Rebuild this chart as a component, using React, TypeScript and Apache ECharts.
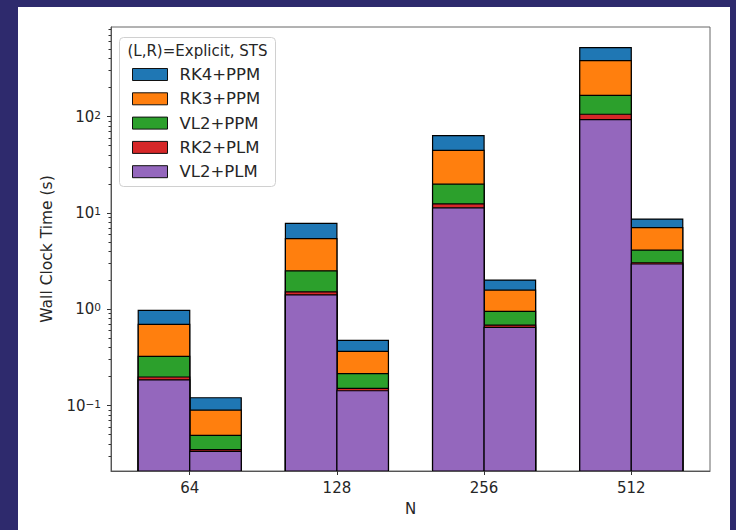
import React, { useEffect, useRef } from 'react';
import * as echarts from 'echarts';

// N values (x categories)
const categories = ['64', '128', '256', '512'];
// Methods, in legend order
const methods = ['RK4+PPM', 'RK3+PPM', 'VL2+PPM', 'RK2+PLM', 'VL2+PLM'];
const colors = ['#1f77b4', '#ff7f0e', '#2ca02c', '#d62728', '#9467bd'];

// Wall clock time (s), left bars: Explicit
const explicitRK4PPM = [0.976, 7.8, 63.2, 517];
const explicitRK3PPM = [0.699, 5.4, 44.6, 380];
const explicitVL2PPM = [0.325, 2.51, 19.9, 166];
const explicitRK2PLM = [0.1985, 1.52, 12.4, 105.5];
const explicitVL2PLM = [0.185, 1.41, 11.3, 92.7];

// Wall clock time (s), right bars: STS
const stsRK4PPM = [0.121, 0.477, 2.01, 8.64];
const stsRK3PPM = [0.09, 0.367, 1.585, 7.02];
const stsVL2PPM = [0.0493, 0.215, 0.953, 4.12];
const stsRK2PLM = [0.035, 0.151, 0.687, 3.04];
const stsVL2PLM = [0.0336, 0.143, 0.65, 2.95];

const explicitTimes = [explicitRK4PPM, explicitRK3PPM, explicitVL2PPM, explicitRK2PLM, explicitVL2PLM];
const stsTimes = [stsRK4PPM, stsRK3PPM, stsVL2PPM, stsRK2PLM, stsVL2PLM];

// Tick values
const xTickValues = [0, 1, 2, 3];
const yMajorTicks = [0.1, 1, 10, 100];
const yMinorTicks = [
  0.03, 0.04, 0.05, 0.06, 0.07, 0.08, 0.09,
  0.2, 0.3, 0.4, 0.5, 0.6, 0.7, 0.8, 0.9,
  2, 3, 4, 5, 6, 7, 8, 9,
  20, 30, 40, 50, 60, 70, 80, 90,
  200, 300, 400, 500, 600, 700, 800,
];

const BAR_W = 0.35;
const FONT = "'DejaVu Sans', sans-serif";
const TXT = '#262626';

export default function App() {
  const ref = useRef<HTMLDivElement>(null);

  useEffect(() => {
    if (!ref.current) return;
    const chart = echarts.init(ref.current, null, { renderer: 'svg' });

    const series = methods.map((m, i) => ({
      type: 'custom',
      name: m,
      xAxisIndex: 0,
      yAxisIndex: 0,
      clip: true,
      itemStyle: { color: colors[i] },
      encode: { x: 0, y: 1 },
      data: [
        ...categories.map((_, j) => [j - BAR_W / 2, explicitTimes[i][j]]),
        ...categories.map((_, j) => [j + BAR_W / 2, stsTimes[i][j]]),
      ],
      renderItem: (params: any, api: any) => {
        const x = api.value(0);
        const v = api.value(1);
        const left = api.coord([x - BAR_W / 2, v]);
        const right = api.coord([x + BAR_W / 2, v]);
        const cs = params.coordSys;
        const bottom = cs.y + cs.height;
        return {
          type: 'rect',
          shape: { x: left[0], y: left[1], width: right[0] - left[0], height: bottom - left[1] },
          style: { fill: colors[i], stroke: '#000', lineWidth: 1.2 },
        };
      },
    }));

    const supFmt = (value: number) => {
      const e = Math.round(Math.log10(value));
      const s = e < 0 ? '\u2212' + -e : String(e);
      return '{b|10}{s|' + s + '}';
    };

    chart.setOption({
      animation: false,
      backgroundColor: '#2e2a6d',
      graphic: [
        {
          type: 'rect',
          z: -100,
          shape: { x: 18, y: 7, width: 712, height: 523 },
          style: { fill: '#ffffff' },
        },
        {
          type: 'rect',
          z: 50,
          shape: { x: 119.5, y: 37.5, width: 156, height: 149, r: 4 },
          style: { fill: 'rgba(255,255,255,0.8)', stroke: '#d0d0d0', lineWidth: 1 },
        },
        {
          type: 'text',
          z: 51,
          x: 197.5,
          y: 51,
          style: {
            text: '(L,R)=Explicit, STS',
            fill: TXT,
            font: `15px ${FONT}`,
            align: 'center',
            verticalAlign: 'middle',
          },
        },
      ],
      legend: {
        data: methods,
        orient: 'vertical',
        left: 132,
        top: 66,
        padding: 0,
        itemWidth: 35,
        itemHeight: 12,
        itemGap: 7.3,
        icon: 'rect',
        z: 60,
        itemStyle: { borderColor: '#111', borderWidth: 1 },
        textStyle: { fontFamily: FONT, fontSize: 16.5, color: TXT, padding: [0, 0, 0, 7] },
        selectedMode: false,
      },
      grid: {
        left: 111,
        top: 27,
        width: 599,
        height: 444,
        show: true,
        borderColor: '#666',
        borderWidth: 1,
        backgroundColor: 'transparent',
      },
      xAxis: {
        type: 'value',
        min: -0.535,
        max: 3.535,
        name: 'N',
        nameLocation: 'middle',
        nameGap: 30,
        nameTextStyle: { fontFamily: FONT, fontSize: 15, color: TXT },
        splitLine: { show: false },
        axisLine: { show: true, onZero: false, lineStyle: { color: '#555', width: 1 } },
        axisTick: { show: true, customValues: xTickValues, length: 4, lineStyle: { color: '#333' } },
        axisLabel: {
          customValues: xTickValues,
          margin: 9,
          fontFamily: FONT,
          fontSize: 15,
          color: TXT,
          formatter: (v: number) => categories[Math.round(v)] ?? '',
        },
      },
      yAxis: [
        {
          type: 'log',
          logBase: 10,
          min: 0.02103,
          max: 848,
          name: 'Wall Clock Time (s)',
          nameLocation: 'middle',
          nameGap: 56,
          nameRotate: 90,
          nameTextStyle: { fontFamily: FONT, fontSize: 15.5, color: TXT },
          splitLine: { show: false },
          axisLine: { show: true, onZero: false, lineStyle: { color: '#555', width: 1 } },
          axisTick: { show: true, customValues: yMajorTicks, length: 4, lineStyle: { color: '#333' } },
          axisLabel: {
            customValues: yMajorTicks,
            margin: 10,
            color: TXT,
            formatter: supFmt,
            rich: {
              b: { fontFamily: FONT, fontSize: 15, lineHeight: 15, color: TXT, verticalAlign: 'bottom', padding: [4, 0, 0, 0] },
              s: { fontFamily: FONT, fontSize: 10.5, lineHeight: 11, color: TXT, verticalAlign: 'top' },
            },
          },
        },
        {
          type: 'log',
          logBase: 10,
          min: 0.02103,
          max: 848,
          position: 'left',
          splitLine: { show: false },
          axisLine: { show: false, onZero: false },
          axisTick: { show: true, customValues: yMinorTicks, length: 2.5, lineStyle: { color: '#333' } },
          axisLabel: { show: false },
        },
      ],
      series,
    });

    return () => chart.dispose();
  }, []);

  return (
    <div
      ref={ref}
      style={{ position: 'fixed', left: 0, top: 0, width: 736, height: 530 }}
    />
  );
}
